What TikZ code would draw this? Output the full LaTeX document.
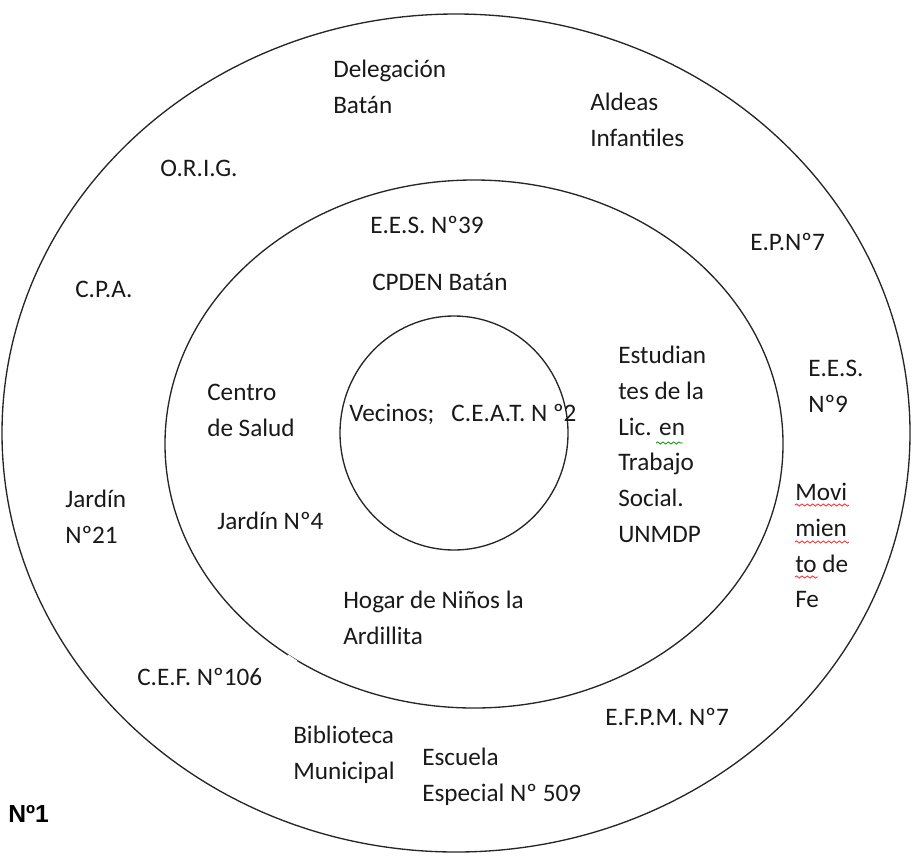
\documentclass[tikz,border=0pt]{standalone}
\usepackage{fontspec}
\setmainfont{Carlito}
\newfontfamily\arialfont{Liberation Sans}
\usetikzlibrary{decorations.pathmorphing}
\tikzset{
	x=0.75pt, y=-0.75pt,
	ring/.style={draw=black!85, line width=1pt},
	gap/.style={draw=white, line width=4pt},
	lbl/.style={anchor=north west, inner sep=0pt, align=left,
		font=\fontsize{18.9}{26.8}\selectfont, text=black!90},
	spell/.style={decorate, decoration={snake, amplitude=0.8pt, segment length=4pt}, line width=0.6pt}}

\begin{document}
\begin{tikzpicture}
	\useasboundingbox (0,0) rectangle (912,856);
	
	\draw[ring] (456,433) ellipse [x radius=454, y radius=419];
	\draw[ring] (474,444) ellipse [x radius=309, y radius=264];
	\draw[ring] (454,433) ellipse [x radius=114, y radius=117];
	
	\draw[gap] (117,704) -- (128,716);
	\draw[gap] (748,773) -- (759,765);
	\draw[gap] (287,657) -- (296,663);
	
	\node[lbl] (deleg) at (333,60) {Delegación\\Batán};
	\node[lbl] (aldeas) at (590,93) {Aldeas\\Infantiles};
	\node[lbl] (orig) at (160,160) {O.R.I.G.};
	\node[lbl] (ees39) at (370,216) {E.E.S. Nº39};
	\node[lbl] (ep7) at (750,233) {E.P.Nº7};
	\node[lbl] (cpden) at (372,273) {CPDEN Batán};
	\node[lbl] (cpa) at (75,281) {C.P.A.};
	\node[lbl] (estud) at (618,346) {Estudian\\tes de la\\Lic. en\\Trabajo\\Social.\\UNMDP};
	\node[lbl] (ees9) at (808,360) {E.E.S.\\Nº9};
	\node[lbl] (centro) at (207,384) {Centro\\de Salud};
	\node[lbl] (vecinos) at (349,404) {Vecinos;\ \ \ C.E.A.T. N º2};
	\node[lbl] (jardin21) at (65,490) {Jardín\\Nº21};
	\node[lbl] (jardin4) at (217,512) {Jardín Nº4};
	\node[lbl] (movi) at (795,483) {Movi\\mien\\to de\\Fe};
	\node[lbl] (hogar) at (343,591) {Hogar de Niños la\\Ardillita};
	\node[lbl] (cef) at (137,668) {C.E.F. Nº106};
	\node[lbl] (efpm) at (605,708) {E.F.P.M. Nº7};
	\node[lbl] (biblio) at (293,726) {Biblioteca\\Municipal};
	\node[lbl] (escuela) at (422,748) {Escuela\\Especial Nº 509};
	\node[lbl, font=\arialfont\bfseries\fontsize{18.5}{22}\selectfont, text=black] (num) at (8,805) {Nº1};
	
	\draw[spell, red!85] (795,505) -- (849,505);
	\draw[spell, red!85] (795,542) -- (849,542);
	\draw[spell, red!85] (795,577) -- (818,577);
	\draw[spell, green!60!black] (656,443) -- (683,443);
\end{tikzpicture}
\end{document}
